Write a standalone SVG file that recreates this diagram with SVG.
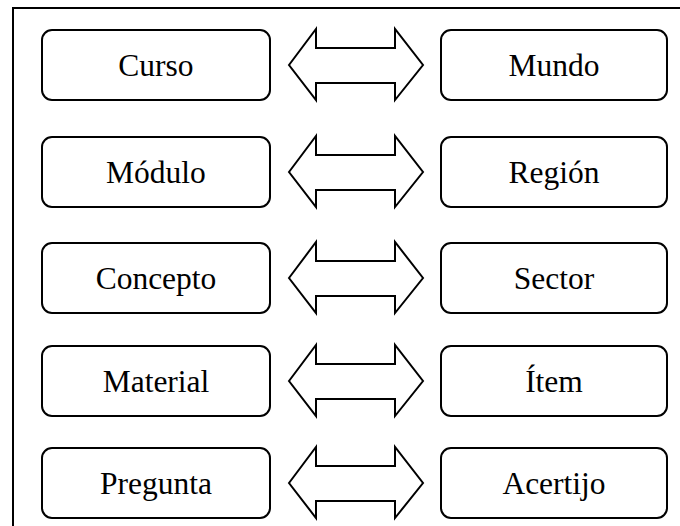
<svg xmlns="http://www.w3.org/2000/svg" width="680" height="526" viewBox="0 0 680 526">
<style>
.box{fill:#fff;stroke:#000;stroke-width:2}
.lbl{font-family:'Liberation Serif','Times New Roman',Times,serif;font-size:31.5px;fill:#000;text-anchor:middle}
.arr{fill:#fff;stroke:#000;stroke-width:2;stroke-linejoin:miter}
.frame{fill:none;stroke:#000;stroke-width:2}
</style>
<rect width="680" height="526" fill="#fff"/>
<path class="frame" d="M13,526 V8 H680"/>
<g id="connectors">
<path class="arr" d="M289,65 L316,29 V48 H395 V29 L423,65 L395,100 V83 H316 V100 Z"/>
<path class="arr" d="M289,172 L316,136 V155 H395 V136 L423,172 L395,207 V190 H316 V207 Z"/>
<path class="arr" d="M289,278 L316,242 V261 H395 V242 L423,278 L395,313 V296 H316 V313 Z"/>
<path class="arr" d="M289,381 L316,345 V364 H395 V345 L423,381 L395,416 V399 H316 V416 Z"/>
<path class="arr" d="M289,483 L316,447 V466 H395 V447 L423,483 L395,518 V501 H316 V518 Z"/>
</g>
<g id="curso"><rect class="box" x="42" y="30" width="228" height="70" rx="10"/><text class="lbl" font-family="Liberation Serif, serif" x="156" y="76">Curso</text></g>
<g id="mundo"><rect class="box" x="441" y="30" width="226" height="70" rx="10"/><text class="lbl" font-family="Liberation Serif, serif" x="554" y="76">Mundo</text></g>
<g id="modulo"><rect class="box" x="42" y="137" width="228" height="70" rx="10"/><text class="lbl" font-family="Liberation Serif, serif" x="156" y="183">Módulo</text></g>
<g id="region"><rect class="box" x="441" y="137" width="226" height="70" rx="10"/><text class="lbl" font-family="Liberation Serif, serif" x="554" y="183">Región</text></g>
<g id="concepto"><rect class="box" x="42" y="243" width="228" height="70" rx="10"/><text class="lbl" font-family="Liberation Serif, serif" x="156" y="289">Concepto</text></g>
<g id="sector"><rect class="box" x="441" y="243" width="226" height="70" rx="10"/><text class="lbl" font-family="Liberation Serif, serif" x="554" y="289">Sector</text></g>
<g id="material"><rect class="box" x="42" y="346" width="228" height="70" rx="10"/><text class="lbl" font-family="Liberation Serif, serif" x="156" y="392">Material</text></g>
<g id="item"><rect class="box" x="441" y="346" width="226" height="70" rx="10"/><text class="lbl" font-family="Liberation Serif, serif" x="554" y="392">Ítem</text></g>
<g id="pregunta"><rect class="box" x="42" y="448" width="228" height="70" rx="10"/><text class="lbl" font-family="Liberation Serif, serif" x="156" y="494">Pregunta</text></g>
<g id="acertijo"><rect class="box" x="441" y="448" width="226" height="70" rx="10"/><text class="lbl" font-family="Liberation Serif, serif" x="554" y="494">Acertijo</text></g>
</svg>
